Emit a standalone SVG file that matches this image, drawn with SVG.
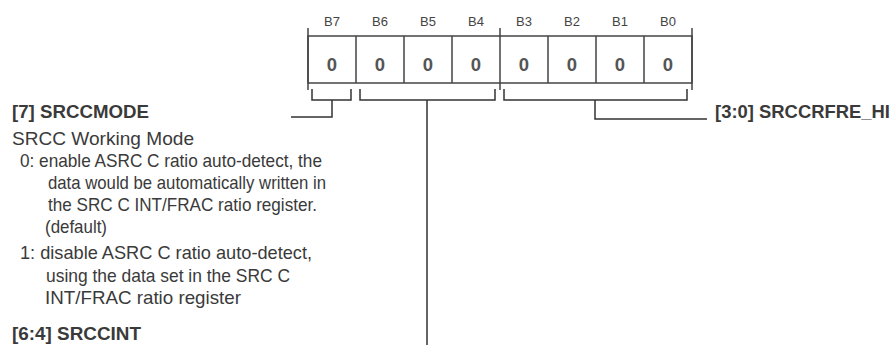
<svg xmlns="http://www.w3.org/2000/svg" width="893" height="345" viewBox="0 0 893 345">
<style>
.bl{font-family:"Liberation Sans",Arial,sans-serif;font-size:13px;fill:#444;text-anchor:middle}
.v{font-family:"Liberation Sans",Arial,sans-serif;font-size:18.5px;font-weight:bold;fill:#555;text-anchor:middle}
.h{font-family:"Liberation Sans",Arial,sans-serif;font-size:18.5px;font-weight:bold;fill:#3a3a3a}
.t{font-family:"Liberation Sans",Arial,sans-serif;font-size:18.5px;fill:#3a3a3a}
.ln{fill:none;stroke:#333;stroke-width:1.5}
.cell{fill:none;stroke:#444;stroke-width:1.5}
</style>
<rect width="893" height="345" fill="#fff"/>
<g id="register">
  <rect x="308" y="36" width="384" height="47" class="cell"/>
  <path class="cell" d="M356 36V83M404 36V83M452 36V83M548 36V83M596 36V83M644 36V83"/>
  <path class="cell" d="M308 28V90M500 28V90M692 28V90"/>
  <text class="bl" x="332" y="26">B7</text>
  <text class="bl" x="380" y="26">B6</text>
  <text class="bl" x="428" y="26">B5</text>
  <text class="bl" x="476" y="26">B4</text>
  <text class="bl" x="524" y="26">B3</text>
  <text class="bl" x="572" y="26">B2</text>
  <text class="bl" x="620" y="26">B1</text>
  <text class="bl" x="668" y="26">B0</text>
  <text class="v" x="332" y="70.5">0</text>
  <text class="v" x="380" y="70.5">0</text>
  <text class="v" x="428" y="70.5">0</text>
  <text class="v" x="476" y="70.5">0</text>
  <text class="v" x="524" y="70.5">0</text>
  <text class="v" x="572" y="70.5">0</text>
  <text class="v" x="620" y="70.5">0</text>
  <text class="v" x="668" y="70.5">0</text>
</g>
<g id="connectors">
  <path class="ln" d="M312 89V100H351V89M332 100V117H291"/>
  <path class="ln" d="M360 89V100H495V89M427 100V345"/>
  <path class="ln" d="M504 89V100H687V89M595 100V119H707"/>
</g>
<g id="field-srccmode">
  <text class="h" x="12" y="118" textLength="137" lengthAdjust="spacingAndGlyphs">[7] SRCCMODE</text>
  <text class="t" x="12" y="145" textLength="182" lengthAdjust="spacingAndGlyphs">SRCC Working Mode</text>
  <text class="t" x="20" y="167" textLength="302" lengthAdjust="spacingAndGlyphs">0: enable ASRC C ratio auto-detect, the</text>
  <text class="t" x="48" y="189" textLength="278" lengthAdjust="spacingAndGlyphs">data would be automatically written in</text>
  <text class="t" x="48" y="211" textLength="269" lengthAdjust="spacingAndGlyphs">the SRC C INT/FRAC ratio register.</text>
  <text class="t" x="45" y="233" textLength="62" lengthAdjust="spacingAndGlyphs">(default)</text>
  <text class="t" x="20" y="259" textLength="292" lengthAdjust="spacingAndGlyphs">1: disable ASRC C ratio auto-detect,</text>
  <text class="t" x="46" y="282" textLength="244" lengthAdjust="spacingAndGlyphs">using the data set in the SRC C</text>
  <text class="t" x="45" y="304" textLength="196" lengthAdjust="spacingAndGlyphs">INT/FRAC ratio register</text>
</g>
<g id="field-srccint">
  <text class="h" x="12" y="340" textLength="129" lengthAdjust="spacingAndGlyphs">[6:4] SRCCINT</text>
</g>
<g id="field-srccrfre-hi">
  <text class="h" x="715" y="118" textLength="175" lengthAdjust="spacingAndGlyphs">[3:0] SRCCRFRE_HI</text>
</g>
</svg>
